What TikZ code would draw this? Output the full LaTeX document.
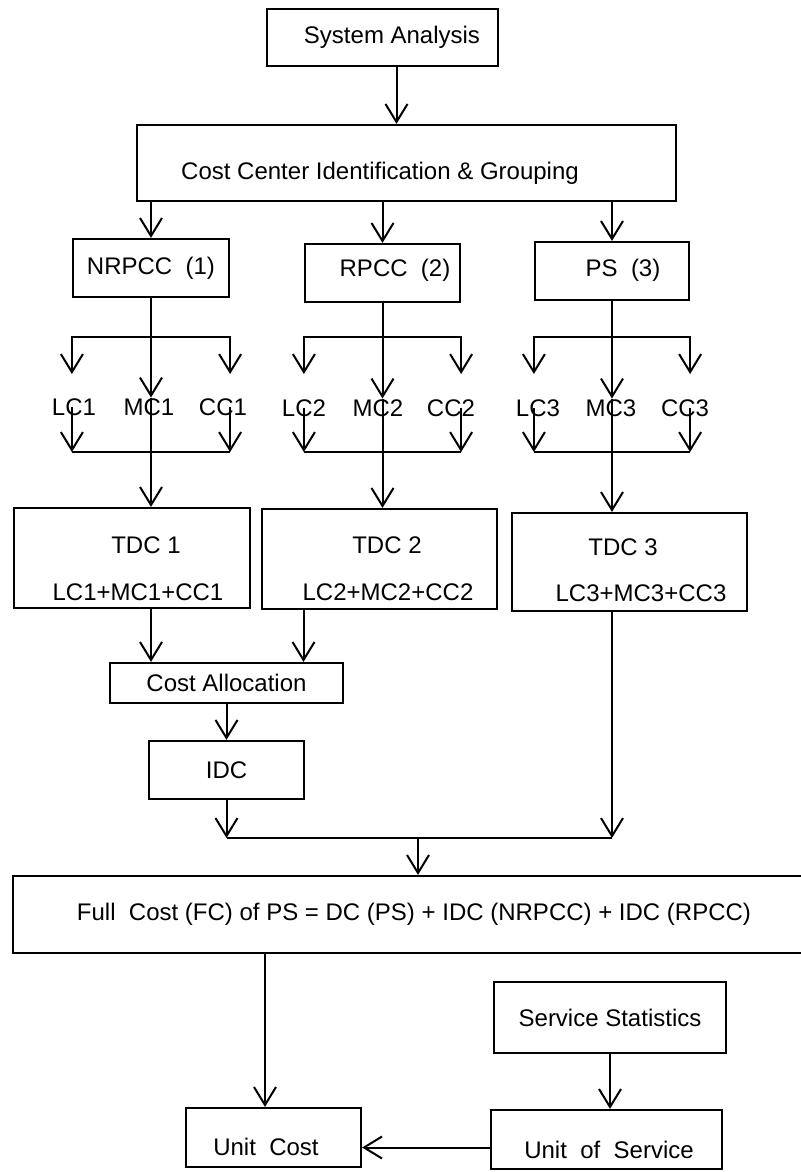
\documentclass[tikz,border=0pt]{standalone}
\usepackage{fontspec}
\setmainfont{Liberation Sans}
\usetikzlibrary{arrows.meta}
\tikzset{
  box/.style={
    draw,
    rectangle,
    line width=1.1pt,
    inner sep=2pt,
    font=\fontsize{12}{14}\selectfont
  },
  tag/.style={
    inner sep=0pt,
    font=\fontsize{12}{14}\selectfont
  },
  flow/.style={-{Straight Barb[length=9pt,width=11pt]}},
  fork/.style={{Straight Barb[length=9pt,width=11pt]}-{Straight Barb[length=9pt,width=11pt]}}
}

\begin{document}
\begin{tikzpicture}[x=0.5pt, y=-0.5pt, line width=1pt]
  \useasboundingbox (0,0) rectangle (800,1172);

  % analysis and grouping
  \node[box, minimum width=115.5pt, minimum height=28.5pt] (sa) at (382.5,37.5) {};
  \node[tag] (satxt) at (392,37) {System Analysis};
  \node[box, minimum width=269.5pt, minimum height=38pt] (cci) at (406.5,163) {};
  \node[tag] (ccitxt) at (380,173) {Cost Center Identification \& Grouping};
  \coordinate (saout) at ([xshift=7pt]sa.south);
  \draw[flow] (saout) -- (saout |- cci.north);

  % cost centres
  \node[box, minimum width=78pt, minimum height=29pt] (nrpcc) at (151,268) {NRPCC\ \ (1)};
  \node[box, minimum width=77.5pt, minimum height=29pt] (rpcc) at (382.5,273) {};
  \node[tag] (rpcctxt) at (395,270) {RPCC\ \ (2)};
  \node[box, minimum width=77pt, minimum height=29pt] (ps) at (612,271) {};
  \node[tag] (pstxt) at (623,270) {PS\ \ (3)};
  \draw[flow] (cci.south -| nrpcc.north) -- (nrpcc.north);
  \draw[flow] (cci.south -| rpcc.north) -- (rpcc.north);
  \draw[flow] (cci.south -| ps.north) -- (ps.north);

  \coordinate (split) at (0,337);
  \coordinate (tip) at (0,374);
  \coordinate (join) at (0,452);

  % labour, material, capital costs
  \node[tag] (lc1) at (74,407) {LC1};
  \node[tag] (mc1) at (149,407) {MC1};
  \node[tag] (cc1) at (223,407) {CC1};
  \node[tag] (lc2) at (304,408) {LC2};
  \node[tag] (mc2) at (378,408) {MC2};
  \node[tag] (cc2) at (451,408) {CC2};
  \node[tag] (lc3) at (538,408) {LC3};
  \node[tag] (mc3) at (611,408) {MC3};
  \node[tag] (cc3) at (685,408) {CC3};

  % total direct costs
  \node[box, minimum width=118pt, minimum height=50pt] (tdc1) at (132,558) {};
  \node[tag] (tdc1a) at (146,545) {TDC 1};
  \node[tag] (tdc1b) at (138,592) {LC1+MC1+CC1};
  \node[box, minimum width=117.5pt, minimum height=50pt] (tdc2) at (379.5,559) {};
  \node[tag] (tdc2a) at (387,545) {TDC 2};
  \node[tag] (tdc2b) at (388,592) {LC2+MC2+CC2};
  \node[box, minimum width=117.5pt, minimum height=49pt] (tdc3) at (629.5,562) {};
  \node[tag] (tdc3a) at (623,547) {TDC 3};
  \node[tag] (tdc3b) at (641,593) {LC3+MC3+CC3};

  \draw[fork] (nrpcc.west |- tip) -- (nrpcc.west |- split) -- (nrpcc.east |- split) -- (nrpcc.east |- tip);
  \draw[flow] (nrpcc.south) -- (nrpcc.south |- mc1.north);
  \draw[flow] (nrpcc.south |- mc1.north) -- (nrpcc.south |- tdc1.north);
  \draw[flow] (nrpcc.west |- lc1) -- (nrpcc.west |- join);
  \draw[flow] (nrpcc.east |- cc1) -- (nrpcc.east |- join);
  \draw (nrpcc.west |- join) -- (nrpcc.east |- join);

  \draw[fork] (rpcc.west |- tip) -- (rpcc.west |- split) -- (rpcc.east |- split) -- (rpcc.east |- tip);
  \draw[flow] (rpcc.south) -- (rpcc.south |- mc2.north);
  \draw[flow] (rpcc.south |- mc2.north) -- (rpcc.south |- tdc2.north);
  \draw[flow] (rpcc.west |- lc2) -- (rpcc.west |- join);
  \draw[flow] (rpcc.east |- cc2) -- (rpcc.east |- join);
  \draw (rpcc.west |- join) -- (rpcc.east |- join);

  \draw[fork] (ps.west |- tip) -- (ps.west |- split) -- (ps.east |- split) -- (ps.east |- tip);
  \draw[flow] (ps.south) -- (ps.south |- mc3.north);
  \draw[flow] (ps.south |- mc3.north) -- (ps.south |- tdc3.north);
  \draw[flow] (ps.west |- lc3) -- (ps.west |- join);
  \draw[flow] (ps.east |- cc3) -- (ps.east |- join);
  \draw (ps.west |- join) -- (ps.east |- join);

  % allocation of indirect costs
  \node[box, minimum width=116.5pt, minimum height=20pt] (ca) at (226.5,683) {Cost Allocation};
  \node[box, minimum width=77.5pt, minimum height=29pt] (idc) at (226.5,770) {IDC};
  \coordinate (tdc2out) at ([xshift=-38pt]tdc2.south);
  \draw[flow] (tdc1.south -| nrpcc.south) -- (ca.north -| nrpcc.south);
  \draw[flow] (tdc2out) -- (tdc2out |- ca.north);
  \draw[flow] (ca.south) -- (idc.north);

  \coordinate (merge) at (418,838);
  \draw[flow] (idc.south) -- (idc.south |- merge);
  \draw[flow] (tdc3.south -| ps.south) -- (ps.south |- merge);
  \draw (idc.south |- merge) -- (ps.south |- merge);

  % full cost and unit cost
  \node[box, minimum width=401pt, minimum height=38.5pt] (fc) at (414,914.5) {Full\ \ Cost (FC) of PS = DC (PS) + IDC (NRPCC) + IDC (RPCC)};
  \draw[flow] (merge) -- (merge |- fc.north);

  \node[box, minimum width=116pt, minimum height=35.5pt] (ss) at (610,1017.5) {Service Statistics};
  \node[box, minimum width=115.5pt, minimum height=29.5pt] (uos) at (606.5,1139.5) {};
  \node[tag] (uostxt) at (609,1150) {Unit\ \ of\ \ Service};
  \node[box, minimum width=87.5pt, minimum height=29.5pt] (uc) at (273.5,1137.5) {};
  \node[tag] (uctxt) at (266,1147) {Unit\ \ Cost};

  \coordinate (ucin) at ([xshift=-4.25pt]uc.north);
  \draw[flow] (ucin |- fc.south) -- (ucin);
  \draw[flow] (ss.south) -- (ss.south |- uos.north);
  \coordinate (uosout) at ([yshift=-4pt]uos.west);
  \draw[flow] (uosout) -- (uosout -| uc.east);
\end{tikzpicture}
\end{document}
